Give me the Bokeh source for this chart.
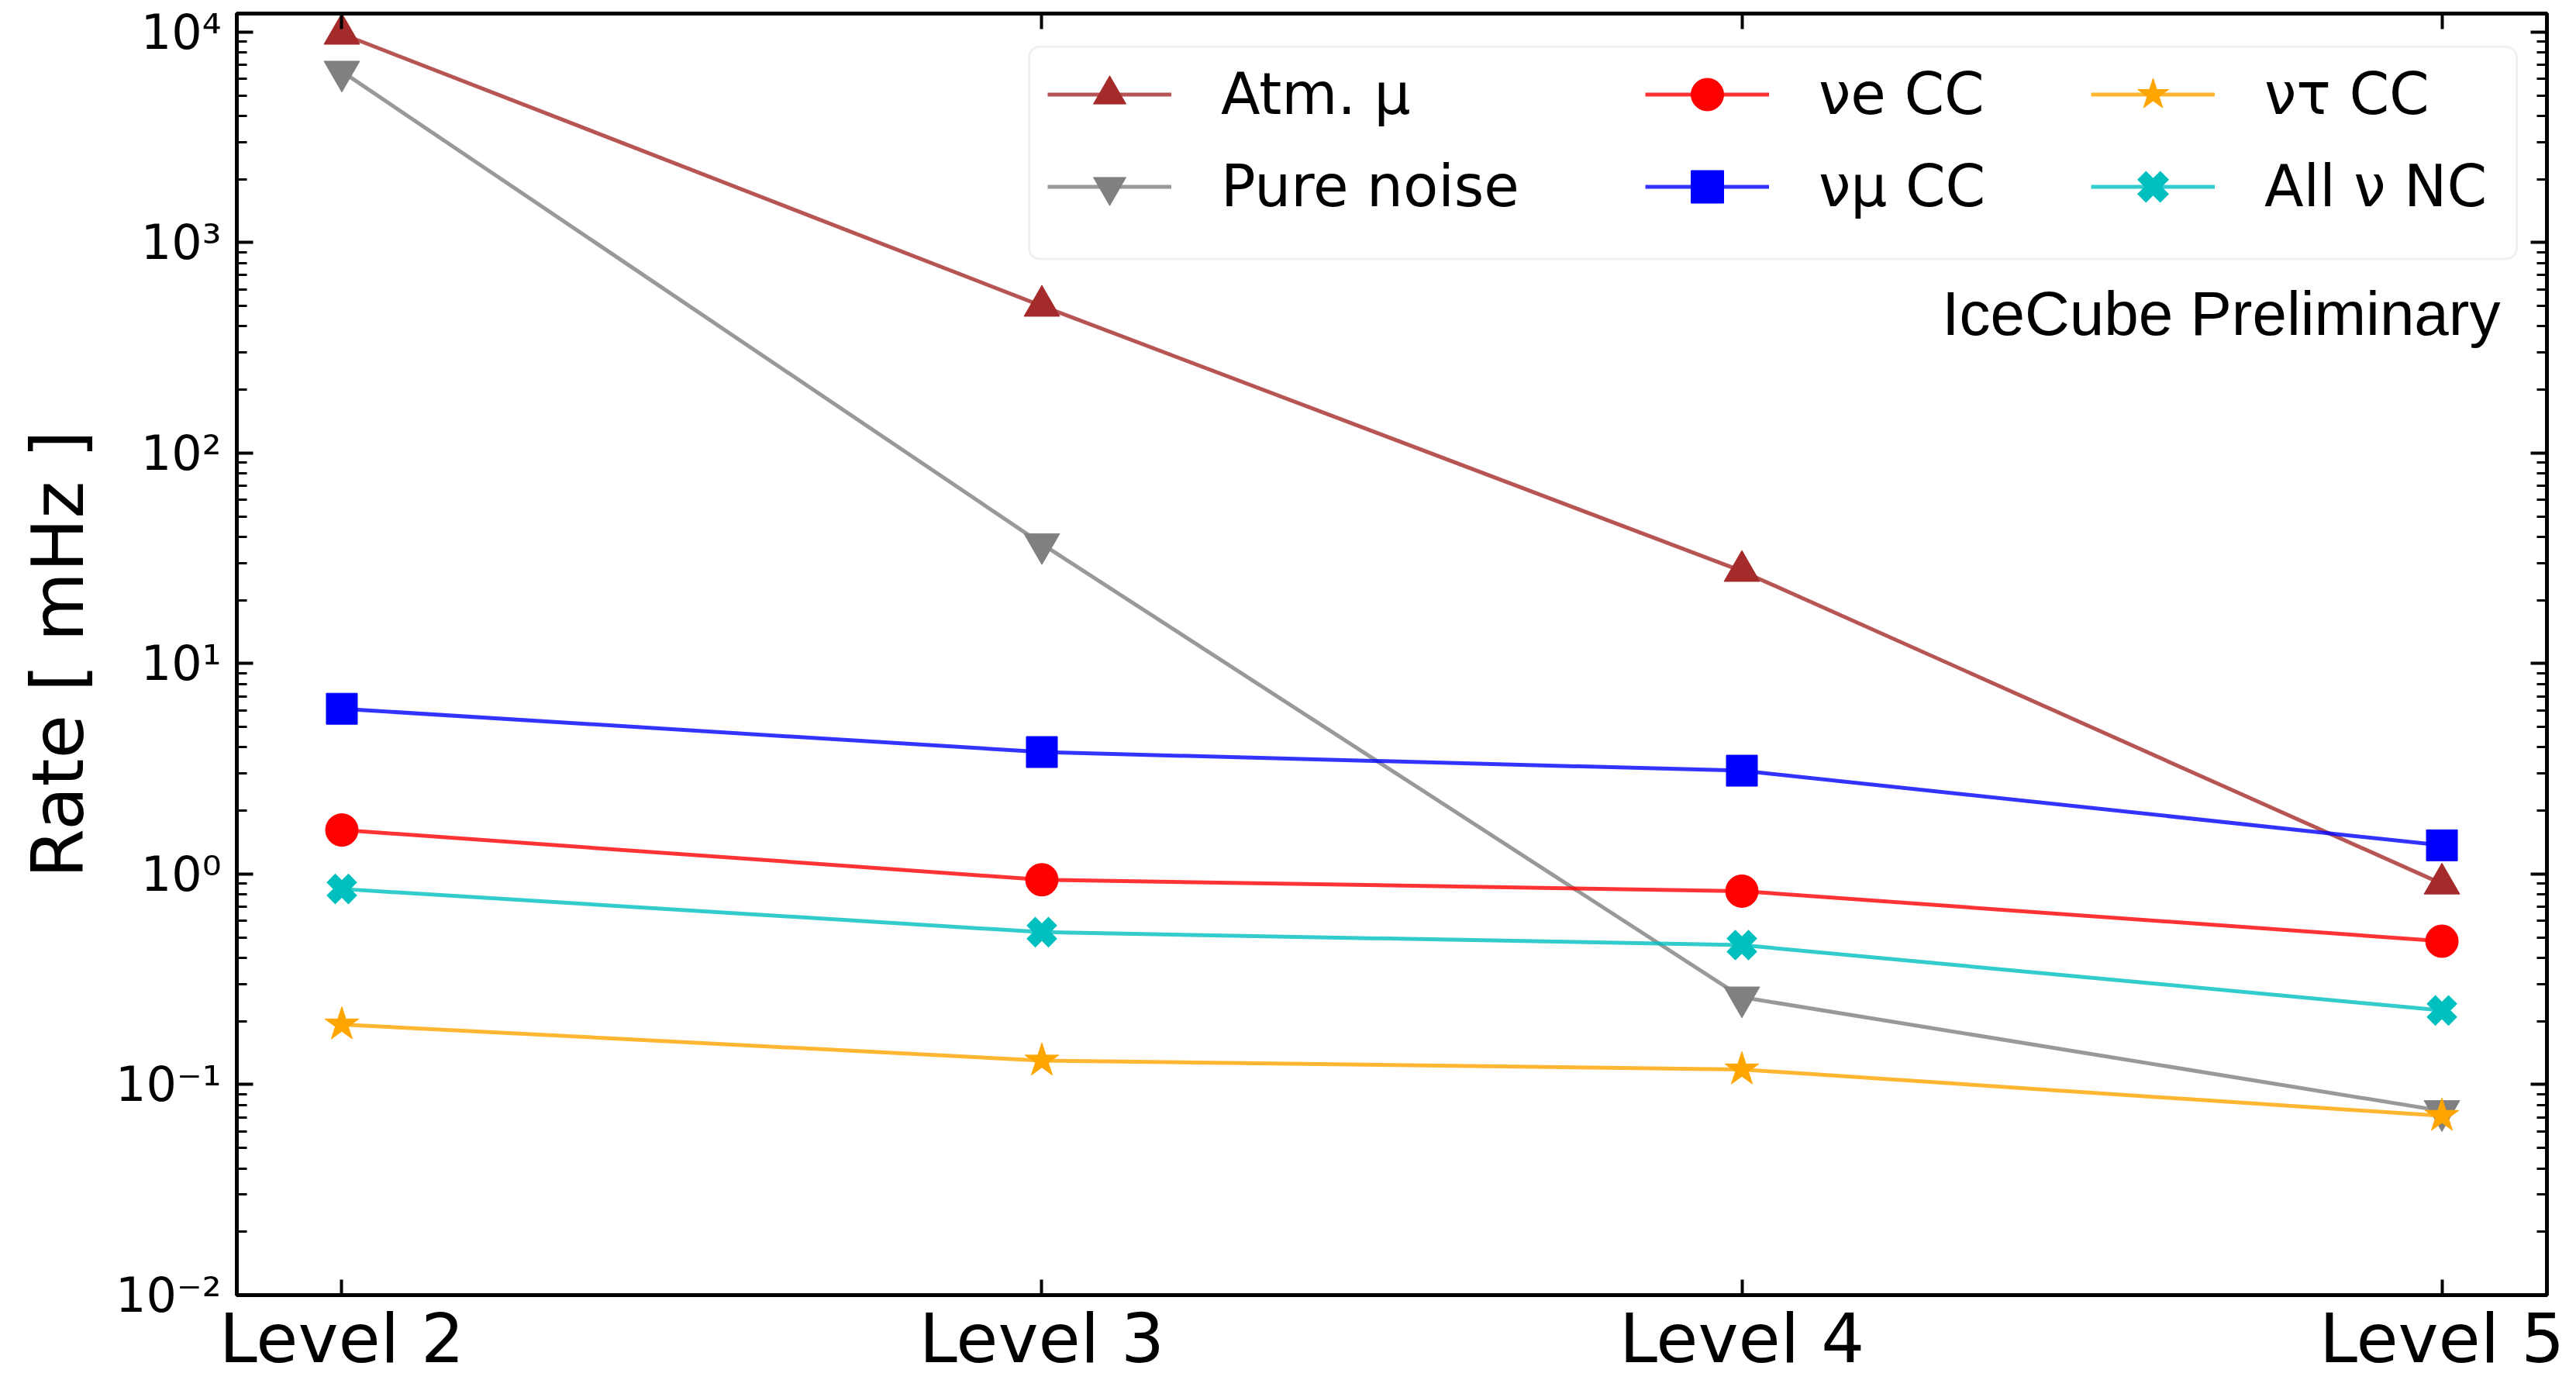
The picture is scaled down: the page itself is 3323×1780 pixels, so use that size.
import numpy as np
from bokeh.plotting import figure
from bokeh.models import (LinearAxis, LogAxis, FixedTicker, CustomJSTickFormatter, Range1d,
                          Legend, LegendItem, BoxAnnotation, Label)
from bokeh.core.properties import value
from bokeh.embed import file_html
from bokeh.resources import INLINE

# ---------------- data ----------------
levels = [2, 3, 4, 5]
level_labels = ["Level 2", "Level 3", "Level 4", "Level 5"]
atm_mu = [9800, 500, 27.5, 0.9]
pure_noise = [6500, 37, 0.26, 0.075]
nue_cc = [1.62, 0.94, 0.83, 0.48]
numu_cc = [6.1, 3.8, 3.1, 1.37]
nutau_cc = [0.193, 0.13, 0.118, 0.071]
all_nc = [0.85, 0.53, 0.46, 0.225]
series_names = ["Atm. μ", "Pure noise", "νe CC", "νμ CC", "ντ CC", "All ν NC"]

# ---------------- layout ----------------
W, H = 3323, 1780
FL, FR, FT, FB = 305, 3285, 17, 1678
X0, X1 = 1.85, 5.15
LY0, LY1 = -2.0, 4.088

def xd(px):
    return X0 + (px - FL) / (FR - FL) * (X1 - X0)

def yd(py):
    return 10 ** (LY1 - (py - FT) / (FB - FT) * (LY1 - LY0))

p = figure(width=W, height=H, y_axis_type="log",
           x_range=Range1d(X0, X1), y_range=Range1d(10 ** LY0, 10 ** LY1),
           output_backend="svg", toolbar_location=None,
           min_border_left=FL, min_border_right=W - FR,
           min_border_top=FT, min_border_bottom=H - FB)
p.background_fill_color = "white"
p.border_fill_color = "white"
p.xgrid.visible = False
p.ygrid.visible = False
p.outline_line_color = "black"
p.outline_line_width = 5

FONT = "DejaVu Sans"
major_y = [10.0 ** e for e in range(-2, 5)]
minor_y = [k * 10.0 ** e for e in range(-2, 4) for k in range(2, 10)] + [2e4]

sup_js = """
const m = {"-": "\u207b", "0": "\u2070", "1": "\u00b9", "2": "\u00b2", "3": "\u00b3",
           "4": "\u2074", "5": "\u2075", "6": "\u2076", "7": "\u2077", "8": "\u2078", "9": "\u2079"};
const e = Math.round(Math.log10(tick));
return "10" + String(e).split("").map(c => m[c]).join("");
"""

def style_axis(ax, major_in, minor_in):
    ax.axis_line_color = "black"
    ax.axis_line_width = 5
    ax.major_tick_in = major_in
    ax.major_tick_out = 0
    ax.minor_tick_in = minor_in
    ax.minor_tick_out = 0
    ax.major_tick_line_width = 4
    ax.minor_tick_line_width = 3
    ax.major_tick_line_color = "black"
    ax.minor_tick_line_color = "black"

# bottom axis
xax = p.xaxis[0]
xax.ticker = FixedTicker(ticks=levels, minor_ticks=[])
xax.major_label_overrides = dict(zip(levels, level_labels))
xax.major_label_text_font = FONT
xax.major_label_text_font_size = "88px"
xax.major_label_text_color = "black"
xax.major_label_standoff = 4
style_axis(xax, 20, 0)

# left axis
yax = p.yaxis[0]
yax.ticker = FixedTicker(ticks=major_y, minor_ticks=minor_y)
yax.formatter = CustomJSTickFormatter(code=sup_js)
yax.major_label_text_font = FONT
yax.major_label_text_font_size = "62px"
yax.major_label_text_color = "black"
yax.major_label_standoff = 20
yax.axis_label = "Rate [ mHz ]"
yax.axis_label_text_font = FONT
yax.axis_label_text_font_size = "92px"
yax.axis_label_text_font_style = "normal"
yax.axis_label_text_color = "black"
yax.axis_label_standoff = 17
style_axis(yax, 21, 13)

# top axis (ticks only)
top = LinearAxis(ticker=FixedTicker(ticks=levels, minor_ticks=[]),
                 formatter=CustomJSTickFormatter(code="return '';"),
                 major_label_text_font_size="1px", major_label_standoff=0)
style_axis(top, 20, 0)
p.add_layout(top, "above")

# right axis (ticks only)
right = LogAxis(ticker=FixedTicker(ticks=major_y, minor_ticks=minor_y),
                formatter=CustomJSTickFormatter(code="return '';"),
                major_label_text_font_size="1px", major_label_standoff=0)
style_axis(right, 21, 13)
p.add_layout(right, "right")

# ---------------- series ----------------
values = [atm_mu, pure_noise, nue_cc, numu_cc, nutau_cc, all_nc]
colors = ["#a52a2a", "#808080", "#ff0000", "#0000ff", "#ffa500", "#00bfbf"]
markers = ["triangle", "inverted_triangle", "circle", "square", "star", "x"]
sizes = [46, 46, 42, 40, 46, 40]
mk_lw = [1, 1, 1, 1, 1, 16]

items = []
for name, vals, col, mk, sz, lw in zip(series_names, values, colors, markers, sizes, mk_lw):
    lr = p.line(levels, vals, line_color=col, line_width=5, line_alpha=0.8)
    sr = p.scatter(levels, vals, marker=mk, size=sz,
                   fill_color=col, line_color=col, line_width=lw)
    items.append(LegendItem(label=name, renderers=[lr, sr]))

# ---------------- legend ----------------
frame_box = BoxAnnotation(left=xd(1327), right=xd(3246), top=yd(60), bottom=yd(335),
                          fill_color="white", fill_alpha=0.85,
                          line_color="#cccccc", line_width=3, border_radius=14)
p.add_layout(frame_box)

ITEM_H = 105
ROW_GAP = 14
leg_bottom_px = 129 - ITEM_H / 2 + 2 * ITEM_H + ROW_GAP
vy = FB - leg_bottom_px
col_starts = [1351, 2122, 2697]
for ci, cx in enumerate(col_starts):
    lg = Legend(items=items[2 * ci: 2 * ci + 2], location=(cx - FL, vy),
                orientation="vertical", padding=0, margin=0, spacing=ROW_GAP,
                glyph_width=160, glyph_height=ITEM_H, label_height=ITEM_H,
                label_standoff=64,
                label_text_font=FONT, label_text_font_size="74px",
                label_text_color="black",
                border_line_color=None, background_fill_alpha=0.0)
    p.add_layout(lg)

p.add_layout(Label(x=xd(3225), y=yd(406), text="IceCube Preliminary",
                   text_align="right", text_baseline="alphabetic",
                   text_font="Liberation Sans", text_font_size="80px",
                   text_color="black"))

open("out.html", "w").write(file_html(p, INLINE))
